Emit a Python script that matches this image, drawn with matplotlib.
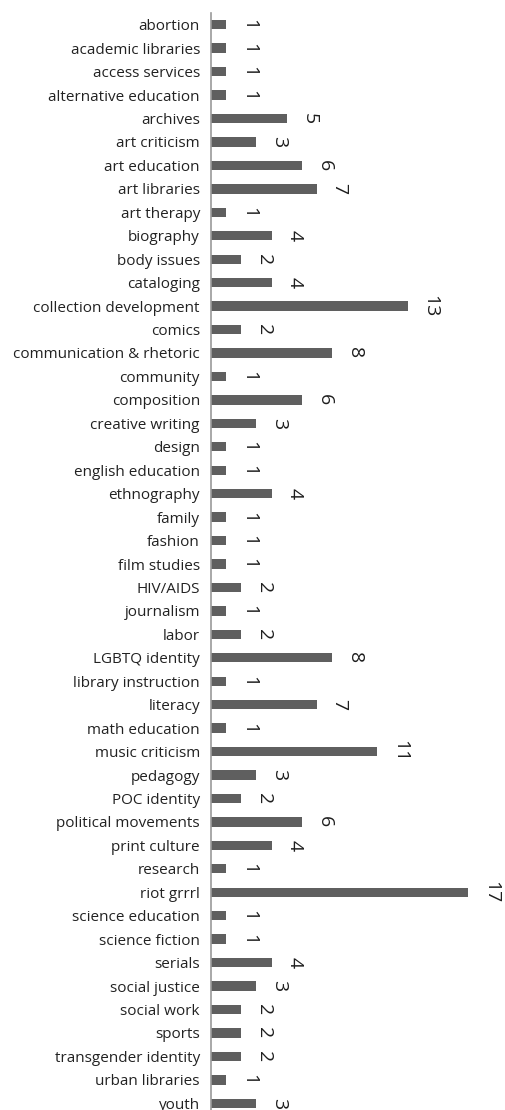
import matplotlib
matplotlib.use("Agg")
import matplotlib.pyplot as plt

topics = ["abortion", "academic libraries", "access services", "alternative education",
          "archives", "art criticism", "art education", "art libraries", "art therapy",
          "biography", "body issues", "cataloging", "collection development", "comics",
          "communication & rhetoric", "community", "composition", "creative writing",
          "design", "english education", "ethnography", "family", "fashion",
          "film studies", "HIV/AIDS", "journalism", "labor", "LGBTQ identity",
          "library instruction", "literacy", "math education", "music criticism",
          "pedagogy", "POC identity", "political movements", "print culture",
          "research", "riot grrrl", "science education", "science fiction", "serials",
          "social justice", "social work", "sports", "transgender identity",
          "urban libraries", "youth"]
counts = [1, 1, 1, 1, 5, 3, 6, 7, 1, 4, 2, 4, 13, 2, 8, 1, 6, 3, 1, 1, 4, 1, 1, 1,
          2, 1, 2, 8, 1, 7, 1, 11, 3, 2, 6, 4, 1, 17, 1, 1, 4, 3, 2, 2, 2, 1, 3]

W, H = 506, 1110
fig = plt.figure(figsize=(W / 100, H / 100), dpi=100)
# axes runs a little past the bottom edge so the last row gets cut
ax = fig.add_axes([211 / W, (H - 1115) / H, (W - 211) / W, (1115 - 13) / H])

pos = list(range(len(topics)))
ax.barh(pos, counts, height=0.4, color="#5f5f5f")
ax.set_ylim(len(topics) - 0.5, -0.5)
ax.set_xlim(0, 19.5)

for y, c in zip(pos, counts):
    ax.text(c + 1.5, y, str(c), rotation=270, ha="center", va="center",
            fontsize=14, family="Open Sans", color="#1e1e1e")

ax.set_yticks(pos)
ax.set_yticklabels(topics, fontsize=11, family="Open Sans", color="#222222")
ax.tick_params(axis="y", length=0, pad=8)
ax.set_xticks([])
for s in ["top", "right", "bottom"]:
    ax.spines[s].set_visible(False)
ax.spines["left"].set_color("#9a9a9a")
ax.spines["left"].set_linewidth(1.2)

fig.savefig("out.png", dpi=100)
